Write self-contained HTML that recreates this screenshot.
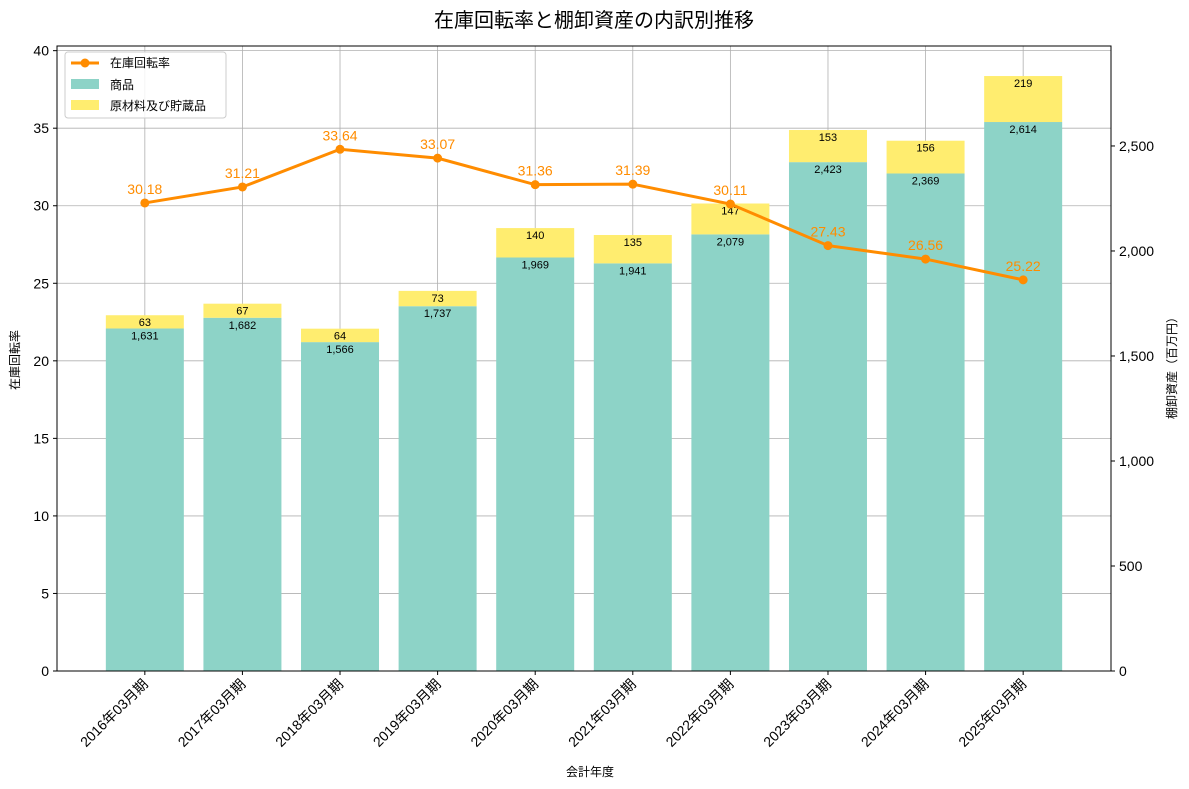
<!DOCTYPE html>
<html lang="ja"><head><meta charset="utf-8">
<style>
body{margin:0;background:#fff;}
svg{display:block;font-family:"Liberation Sans","Noto Sans CJK JP",sans-serif;}
</style></head>
<body>
<svg id="chart" width="1189" height="789" viewBox="0 0 1189 789">
<text x="594" y="27" text-anchor="middle" font-size="20" fill="#000">在庫回転率と棚卸資産の内訳別推移</text>
<g id="grid"></g><g id="bars"></g><g id="line"></g><g id="axes"></g>
</svg>
<script>
const categories=["2016年03月期","2017年03月期","2018年03月期","2019年03月期","2020年03月期","2021年03月期","2022年03月期","2023年03月期","2024年03月期","2025年03月期"];
const goods=[1631,1682,1566,1737,1969,1941,2079,2423,2369,2614];
const materials=[63,67,64,73,140,135,147,153,156,219];
const turnover=[30.18,31.21,33.64,33.07,31.36,31.39,30.11,27.43,26.56,25.22];
const leftTicks=[0,5,10,15,20,25,30,35,40];
const rightTicks=[0,500,1000,1500,2000,2500];

const NS="http://www.w3.org/2000/svg";
const PL=57,PR=1111,PT=46,PB=671;
const xs=i=>PL+(i+0.9)/10.8*(PR-PL);
const yl=v=>PB-v/40.3*(PB-PT);
const yr=v=>PB-v/2976*(PB-PT);
function mk(tag,attrs,parent,txt){const e=document.createElementNS(NS,tag);for(const k in attrs)e.setAttribute(k,attrs[k]);if(txt!==undefined)e.textContent=txt;parent.appendChild(e);return e;}
const fmt=v=>v.toLocaleString("en-US");
const G=document.getElementById("grid"),B=document.getElementById("bars"),L=document.getElementById("line"),A=document.getElementById("axes");

leftTicks.forEach(t=>{
  const y=yl(t);
  const g=mk("line",{x1:PL,x2:PR,y1:y,y2:y,stroke:"#b0b0b0","stroke-width":0.8},G);
  
  
  mk("line",{x1:PL-4,x2:PL,y1:y,y2:y,stroke:"#000"},A);
  const tx=mk("text",{x:PL-8,y:y+5,"text-anchor":"end","font-size":14},A,String(t));
  
  
});
rightTicks.forEach(t=>{
  const y=yr(t);
  mk("line",{x1:PR,x2:PR+4,y1:y,y2:y,stroke:"#000"},A);
  const tx=mk("text",{x:PR+8,y:y+5,"font-size":14},A,fmt(t));
  
  
});
categories.forEach((c,i)=>{
  const x=xs(i);
  const g=mk("line",{x1:x,x2:x,y1:PT,y2:PB,stroke:"#b0b0b0","stroke-width":0.8},G);
  
  
  const bw=78;
  const yg=yr(goods[i]),ym=yr(goods[i]+materials[i]);
  const r1=mk("rect",{x:x-bw/2,y:yg,width:bw,height:PB-yg,fill:"#8dd3c7"},B);
  
  
  const r2=mk("rect",{x:x-bw/2,y:ym,width:bw,height:yg-ym,fill:"#ffed6f"},B);
  
  
  const t1=mk("text",{x:x,y:yg+11,"text-anchor":"middle","font-size":11},B,fmt(goods[i]));
  
  
  const t2=mk("text",{x:x,y:ym+11,"text-anchor":"middle","font-size":11},B,fmt(materials[i]));
  
  
  mk("line",{x1:x,x2:x,y1:PB,y2:PB+4,stroke:"#000"},A);
  const xl=mk("text",{transform:`translate(${x+4},${PB+14}) rotate(-45)`,"text-anchor":"end","font-size":14},A,c);
  
  
});
const pts=turnover.map((v,i)=>xs(i)+","+yl(v)).join(" ");
const pl=mk("polyline",{points:pts,fill:"none",stroke:"#ff8c00","stroke-width":3},L);


turnover.forEach((v,i)=>{
  const c=mk("circle",{cx:xs(i),cy:yl(v),r:4.5,fill:"#ff8c00"},L);
  
  
  const t=mk("text",{x:xs(i),y:yl(v)-9,"text-anchor":"middle","font-size":14,fill:"#ff8c00"},L,v.toFixed(2));
  
  
});
const fr=mk("rect",{x:PL,y:PT,width:PR-PL,height:PB-PT,fill:"none",stroke:"#000","stroke-width":1},A);


</script>
<svg style="position:absolute;left:0;top:0" width="1189" height="789">
<g font-family="Liberation Sans,Noto Sans CJK JP,sans-serif">
<text x="590" y="776" text-anchor="middle" font-size="12">会計年度</text>
<text transform="translate(19,360) rotate(-90)" text-anchor="middle" font-size="12">在庫回転率</text>
<text transform="translate(1176,365) rotate(-90)" text-anchor="middle" font-size="12">棚卸資産（百万円）</text>
<g>
<rect x="65" y="52" width="161" height="66" rx="3" fill="#fff" fill-opacity="0.85" stroke="#ccc"/>
<g><line x1="71" x2="99" y1="63" y2="63" stroke="#ff8c00" stroke-width="3"/><circle cx="85" cy="63" r="4.5" fill="#ff8c00"/><text x="110" y="67" font-size="12">在庫回転率</text></g>
<g><rect x="71" y="79" width="28" height="10" fill="#8dd3c7"/><text x="110" y="89" font-size="12">商品</text></g>
<g><rect x="71" y="100" width="28" height="10" fill="#ffed6f"/><text x="110" y="110" font-size="12">原材料及び貯蔵品</text></g>
</g></g></svg>
</body></html>
